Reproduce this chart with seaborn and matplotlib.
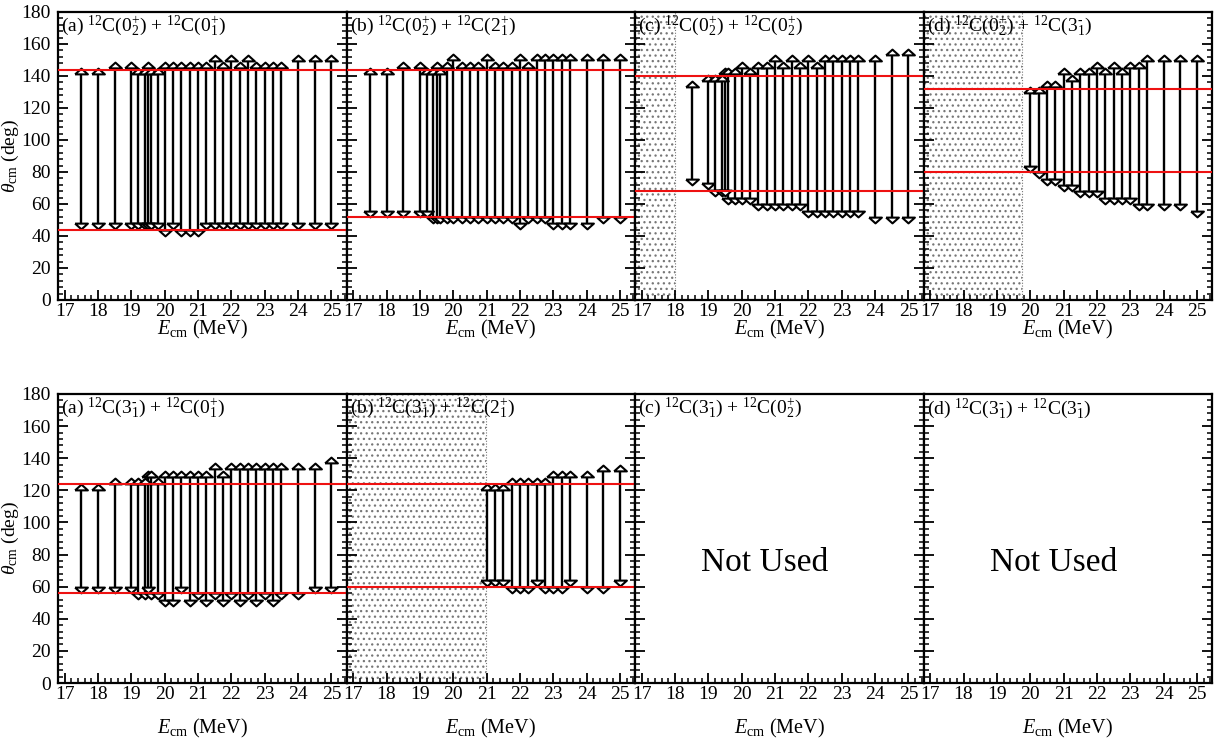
import matplotlib
matplotlib.use("Agg")
import matplotlib.pyplot as plt
from matplotlib.ticker import MultipleLocator
from matplotlib.markers import MarkerStyle
import pandas as pd
import seaborn as sns

# ---- data -----------------------------------------------------------------
E_full = [17.5, 18.0, 18.5, 19.0, 19.2, 19.4, 19.5, 19.6, 19.8, 20.0, 20.25,
          20.5, 20.75, 21.0, 21.25, 21.5, 21.75, 22.0, 22.25, 22.5, 22.75,
          23.0, 23.25, 23.5, 24.0, 24.5, 25.0]

# 12C(0+2) + 12C(0+1)
a_hi = [143, 143, 147, 147, 143, 143, 147, 143, 143, 147, 147, 147, 147, 147,
        147, 151, 147, 151, 147, 151, 147, 147, 147, 147, 151, 151, 151]
a_lo = [46, 46, 46, 46, 46, 46, 46, 46, 46, 42, 46, 42, 42, 42, 46, 46, 46, 46,
        46, 46, 46, 46, 46, 46, 46, 46, 46]

# 12C(0+2) + 12C(2+1)
b_hi = [143, 143, 147, 147, 143, 143, 147, 143, 147, 152, 147, 147, 147, 152,
        147, 147, 147, 152, 147, 152, 152, 152, 152, 152, 152, 152, 152]
b_lo = [54, 54, 54, 54, 54, 50, 50, 50, 50, 50, 50, 50, 50, 50, 50, 50, 50, 46,
        50, 50, 50, 46, 46, 46, 46, 50, 50]

# 12C(0+2) + 12C(0+2)
E_c = E_full[2:]
c_hi = [135, 139, 139, 139, 143, 143, 143, 147, 143, 147, 147, 151, 147, 151,
        147, 151, 147, 151, 151, 151, 151, 151, 151, 155, 155]
c_lo = [74, 71, 67, 67, 67, 62, 62, 62, 62, 58, 58, 58, 58, 58, 58, 54, 54, 54,
        54, 54, 54, 54, 50, 50, 50]

# 12C(0+2) + 12C(3-1)
E_d = [20.0, 20.25, 20.5, 20.75, 21.0, 21.25, 21.5, 21.75, 22.0, 22.25, 22.5,
       22.75, 23.0, 23.25, 23.5, 24.0, 24.5, 25.0]
d_hi = [131, 131, 135, 135, 143, 139, 143, 143, 147, 143, 147, 143, 147, 147,
        151, 151, 151, 151]
d_lo = [82, 78, 74, 74, 70, 70, 66, 66, 66, 62, 62, 62, 62, 58, 58, 58, 58, 54]

# 12C(3-1) + 12C(0+1)
e_hi = [122, 122, 126, 126, 126, 126, 130, 130, 126, 130, 130, 130, 130, 130,
        130, 135, 130, 135, 135, 135, 135, 135, 135, 135, 135, 135, 139]
e_lo = [58, 58, 58, 58, 54, 54, 58, 54, 54, 50, 50, 58, 50, 54, 50, 54, 50, 54,
        50, 54, 50, 54, 50, 54, 54, 58, 58]

# 12C(3-1) + 12C(2+1)
E_f = [21.0, 21.25, 21.5, 21.75, 22.0, 22.25, 22.5, 22.75, 23.0, 23.25, 23.5,
       24.0, 24.5, 25.0]
f_hi = [122, 122, 122, 126, 126, 126, 126, 126, 130, 130, 130, 130, 134, 134]
f_lo = [62, 62, 62, 58, 58, 58, 62, 58, 58, 58, 62, 58, 58, 62]

# grazing-angle window (red lines) per panel
limits_top = [(44, 144), (52, 144), (68, 140), (80, 132)]
limits_bot = [(56, 124), (60, 124), None, None]

# upper edge of the excluded (shaded) energy range
shade_top = [None, None, 18.0, 19.75]
shade_bot = [None, 20.97, None, None]

P2 = r"$^{+}_{2}$"
P1 = r"$^{+}_{1}$"
M1 = r"$^{\text{-}}_{1}$"
labels_top = [
    r"(a) $^{12}$C(0" + P2 + r") + $^{12}$C(0" + P1 + ")",
    r"(b) $^{12}$C(0" + P2 + r") + $^{12}$C(2" + P1 + ")",
    r"(c) $^{12}$C(0" + P2 + r") + $^{12}$C(0" + P2 + ")",
    r"(d) $^{12}$C(0" + P2 + r") + $^{12}$C(3" + M1 + ")",
]
labels_bot = [
    r"(a) $^{12}$C(3" + M1 + r") + $^{12}$C(0" + P1 + ")",
    r"(b) $^{12}$C(3" + M1 + r") + $^{12}$C(2" + P1 + ")",
    r"(c) $^{12}$C(3" + M1 + r") + $^{12}$C(0" + P2 + ")",
    r"(d) $^{12}$C(3" + M1 + r") + $^{12}$C(3" + M1 + ")",
]

series_top = [(E_full, a_lo, a_hi), (E_full, b_lo, b_hi), (E_c, c_lo, c_hi),
              (E_d, d_lo, d_hi)]
series_bot = [(E_full, e_lo, e_hi), (E_f, f_lo, f_hi), None, None]

# ---- style ----------------------------------------------------------------
sns.set_theme(style="ticks")
plt.rcParams.update({
    "font.family": ["Liberation Serif", "DejaVu Serif"],
    "mathtext.fontset": "custom",
    "mathtext.rm": "Liberation Serif",
    "mathtext.it": "Liberation Serif:italic",
    "mathtext.bf": "Liberation Serif:bold",
    "text.color": "black",
    "axes.labelcolor": "black",
    "xtick.color": "black",
    "ytick.color": "black",
    "axes.linewidth": 1.6,
    "axes.edgecolor": "black",
    "hatch.linewidth": 0.9,
    "hatch.color": "#777777",
})

up_head = MarkerStyle([(-1.0, -0.45), (1.0, -0.45), (0.0, 0.45), (-1.0, -0.45)])
down_head = MarkerStyle([(-1.0, 0.45), (1.0, 0.45), (0.0, -0.45), (-1.0, 0.45)])

fig = plt.figure(figsize=(12.15, 7.42), dpi=100)
W, H = 1215.0, 742.0
x0, pw = 58.0, 288.5
rows = [(12.0, 300.0), (394.0, 683.0)]
xlabel_pad = [-1, 10]


def draw_panel(ax, series, lims, shade, label, first_col, row):
    ax.set_xlim(16.8, 25.45)
    ax.set_ylim(0, 180)
    if shade is not None:
        ax.axvspan(16.8, shade, facecolor="none", edgecolor="#777777",
                   hatch="...", linewidth=0, zorder=0)
        ax.axvline(shade, color="#777777", lw=0.8, ls=(0, (1, 1.5)), zorder=0)
    if lims is not None:
        for v in lims:
            ax.axhline(v, color="#ee1111", lw=1.5, zorder=4)
    if series is not None:
        E, lo, hi = series
        ax.vlines(E, lo, hi, color="black", lw=1.7, zorder=2)
        df = pd.DataFrame({"E": E, "lo": lo, "hi": hi})
        sns.scatterplot(data=df, x="E", y="hi", marker=up_head, s=85,
                        color="white", edgecolor="black", linewidth=1.5,
                        ax=ax, zorder=3, legend=False)
        sns.scatterplot(data=df, x="E", y="lo", marker=down_head, s=85,
                        color="white", edgecolor="black", linewidth=1.5,
                        ax=ax, zorder=3, legend=False)
    else:
        ax.text(20.7, 70, "Not Used", fontsize=24, ha="center",
                va="baseline")
    ax.text(0.012, 0.992, label, transform=ax.transAxes, fontsize=14,
            va="top", ha="left", zorder=5)

    ax.xaxis.set_major_locator(MultipleLocator(1))
    ax.xaxis.set_minor_locator(MultipleLocator(0.2))
    ax.yaxis.set_major_locator(MultipleLocator(20))
    ax.yaxis.set_minor_locator(MultipleLocator(4))
    ax.tick_params(which="both", direction="in", top=False, right=True,
                   labelsize=14, color="black")
    ax.tick_params(axis="x", pad=2)
    ax.tick_params(axis="y", pad=5)
    ax.tick_params(which="major", length=7, width=1.3)
    ax.tick_params(which="minor", length=3.5, width=1.1)
    for s in ax.spines.values():
        s.set_visible(True)
        s.set_linewidth(1.6)
    ax.set_xlabel(r"$E_{\rm cm}$ (MeV)", fontsize=14.5,
                  labelpad=xlabel_pad[row])
    if first_col:
        ax.set_ylabel(r"$\theta_{\rm cm}$ (deg)", fontsize=14)
        ax.yaxis.set_label_coords(-0.128, 0.5)
        ax.set_yticklabels([str(int(v)) for v in ax.get_yticks()])
    else:
        ax.set_ylabel("")
        ax.tick_params(labelleft=False)


for r, (ytop, ybot) in enumerate(rows):
    for c in range(4):
        rect = [(x0 + c * pw) / W, 1 - ybot / H, pw / W, (ybot - ytop) / H]
        ax = fig.add_axes(rect)
        if r == 0:
            draw_panel(ax, series_top[c], limits_top[c], shade_top[c],
                       labels_top[c], c == 0, r)
        else:
            draw_panel(ax, series_bot[c], limits_bot[c], shade_bot[c],
                       labels_bot[c], c == 0, r)

fig.savefig("out.png", dpi=100)
